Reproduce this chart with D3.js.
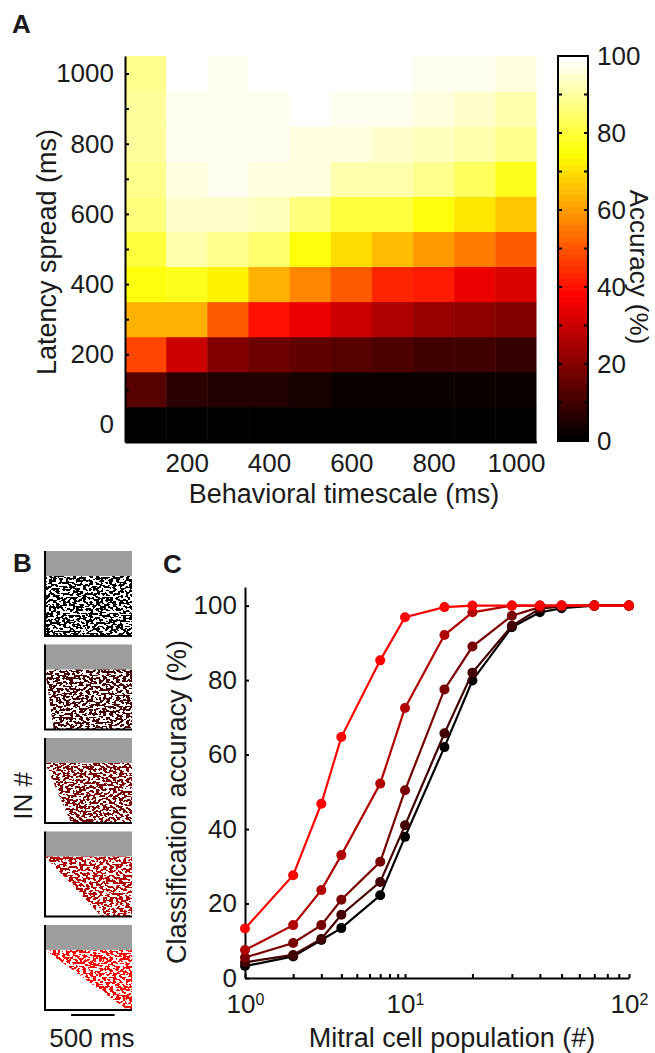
<!DOCTYPE html>
<html>
<head>
<meta charset="utf-8">
<title>Latency spread and classification accuracy</title>
<style>
  body { margin: 0; background: #fff; }
  text { font-family: "Liberation Sans", Arial, sans-serif; fill: #1a1a1a; }
</style>
</head>
<body>
<script src="https://d3js.org/d3.v7.min.js"></script>
<div id="fig"></div>
<script>
// ---- panel A data: accuracy (%) for each latency spread (rows) x behavioral timescale (cols)
var timescale = [100, 200, 300, 400, 500, 600, 700, 800, 900, 1000];
var spread = [0, 100, 200, 300, 400, 500, 600, 700, 800, 900, 1000];
var accuracy = [
  [1.2, 0.9, 0.8, 0.7, 0.7, 0.6, 0.6, 0.6, 0.6, 0.6],
  [12.5, 7, 5.9, 4.7, 4.1, 2.6, 2.4, 2.4, 2.0, 1.8],
  [47, 30, 20.3, 16.5, 15, 13, 11.8, 9.7, 9.4, 8.8],
  [62.5, 62.5, 50, 39.8, 35, 30, 25, 22.5, 21.5, 18.8],
  [75, 78, 72.5, 62.5, 57.5, 50, 43.5, 41, 35, 32.5],
  [81, 90.7, 89, 84.4, 75, 69.4, 64.6, 60.4, 55.4, 50.7],
  [86, 94.5, 94, 93, 86, 81, 80, 76.5, 71.6, 66.9],
  [87.5, 96.5, 97.5, 96.8, 96, 92, 91, 87.5, 83, 78],
  [90, 97.5, 98, 97.8, 96.8, 95.8, 94.5, 93, 92, 89],
  [90, 97, 98, 97.8, 100, 97.5, 97, 96.5, 95, 92],
  [89, 100, 97.8, 100, 100, 100, 100, 97.5, 97, 96]
];
var xTicksA = [200, 400, 600, 800, 1000];
var cbTicks = [0, 20, 40, 60, 80, 100];

// ---- panel B: latency spread shown in each raster (ms)
var rasterSpread = [0, 100, 300, 650, 950];
var inColors = ["#000000", "#420000", "#780000", "#b00000", "#ff0000"];

// ---- panel C: classification accuracy vs mitral cell population
var population = [1, 2, 3, 4, 7, 10, 15, 20, 30, 40, 50, 70, 100];
var acc1 = [3.2, 5.8, 10.2, 13.4, 22.2, 37.9, 62, 79.9, 94.2, 98.2, 99.3, 100, 100];
var acc2 = [4.2, 6.2, 10.5, 17, 25.8, 41, 65.7, 82, 94.6, 99.2, 99.8, 100, 100];
var acc3 = [5.5, 9.4, 14.2, 21, 31.2, 50.4, 77.5, 89, 97.3, 99.6, 100, 100, 100];
var acc4 = [7.5, 14.2, 23.6, 33, 52.2, 72.5, 92.1, 98.2, 100, 100, 100, 100, 100];
var acc5 = [13.3, 27.6, 46.8, 64.7, 85.3, 96.9, 99.6, 100, 100, 100, 100, 100, 100];
var yTicksC = [0, 20, 40, 60, 80, 100];

var svg = d3.select("#fig").append("svg")
  .attr("width", 655)
  .attr("height", 1053);

function styleAxis(g) {
  g.attr("font-size", null).attr("font-family", null);
  g.select(".domain").attr("stroke", "#000").attr("stroke-width", 2);
  g.selectAll(".tick line").attr("stroke", "#000").attr("stroke-width", 2);
  g.selectAll(".tick text").attr("font-size", 26).style("fill", "#1a1a1a");
}

// ================= A =================
var xA = d3.scaleLinear().domain([50, 1050]).range([125, 536.5]);
var yA = d3.scaleLinear().domain([-50, 1050]).range([442, 56]);
var hot = d3.scaleLinear().domain([0, 37.5, 75, 100]).range(["#000", "#f00", "#ff0", "#fff"]);
var hotSteps = d3.range(64).map(function(i) { return hot(i * 100 / 63); });
var colorA = d3.scaleQuantize().domain([0, 100]).range(hotSteps);

var cells = [];
accuracy.forEach(function(row, i) {
  row.forEach(function(v, j) { cells.push({x: timescale[j], y: spread[i], v: v}); });
});

svg.append("g").selectAll("rect")
  .data(cells)
  .enter().append("rect")
    .attr("x", function(d) { return xA(d.x - 50); })
    .attr("y", function(d) { return yA(d.y + 50); })
    .attr("width", function(d) { return xA(d.x + 50) - xA(d.x - 50) + (d.x < 1000 ? 0.5 : 0); })
    .attr("height", function(d) { return yA(d.y - 50) - yA(d.y + 50) + (d.y > 0 ? 0.5 : 0); })
    .attr("fill", function(d) { return colorA(d.v); });

svg.append("g")
  .attr("transform", "translate(125,0)")
  .call(d3.axisLeft(yA).tickValues(d3.range(0, 1001, 100)).tickSize(-4).tickSizeOuter(0).tickPadding(11)
    .tickFormat(function(d) { return d % 200 == 0 ? d : ""; }))
  .call(styleAxis);

svg.append("g")
  .attr("transform", "translate(0,442)")
  .call(d3.axisBottom(xA).tickValues(xTicksA).tickSize(0).tickPadding(12).tickFormat(d3.format("d")))
  .call(styleAxis);

// colorbar
var yCb = d3.scaleLinear().domain([0, 100]).range([441, 56]);
var cb = svg.append("g");
cb.selectAll("rect")
  .data(hotSteps)
  .enter().append("rect")
    .attr("x", 558)
    .attr("width", 30)
    .attr("y", function(d, i) { return yCb((i + 1) * 100 / 64); })
    .attr("height", function(d, i) { return yCb(i * 100 / 64) - yCb((i + 1) * 100 / 64) + 0.5; })
    .attr("fill", function(d) { return d; });
cb.append("rect")
  .attr("x", 558).attr("y", yCb(100)).attr("width", 30).attr("height", yCb(0) - yCb(100))
  .attr("fill", "none").attr("stroke", "#000").attr("stroke-width", 2);
cb.selectAll(".tl")
  .data(d3.range(10, 100, 10))
  .enter().append("path")
    .attr("d", function(d) { return "M558," + yCb(d) + "h4M588," + yCb(d) + "h-4"; })
    .attr("stroke", "#000").attr("stroke-width", 2);
cb.selectAll("text")
  .data(cbTicks)
  .enter().append("text")
    .attr("x", 597)
    .attr("y", function(d) { return yCb(d); })
    .attr("dy", "0.35em")
    .attr("font-size", 26)
    .text(function(d) { return d; });
svg.append("text")
  .attr("transform", "translate(630,267) rotate(90)")
  .attr("text-anchor", "middle")
  .attr("font-size", 26)
  .text("Accuracy (%)");

svg.append("text")
  .attr("transform", "translate(56,252) rotate(-90)")
  .attr("text-anchor", "middle")
  .attr("font-size", 27)
  .text("Latency spread (ms)");
svg.append("text")
  .attr("x", 344).attr("y", 503)
  .attr("text-anchor", "middle")
  .attr("font-size", 27)
  .text("Behavioral timescale (ms)");

svg.append("text").attr("x", 12).attr("y", 33).attr("font-size", 26).attr("font-weight", "bold").text("A");

// ================= B =================
// spike rasters drawn as a thresholded noise texture clipped to each raster's area
var defs = svg.append("defs");
var flt = defs.append("filter").attr("id", "spikes")
  .attr("color-interpolation-filters", "sRGB")
  .attr("x", 0).attr("y", 0).attr("width", 1).attr("height", 1);
flt.append("feTurbulence").attr("type", "fractalNoise").attr("baseFrequency", "0.3 0.45")
  .attr("numOctaves", 1).attr("seed", 7).attr("result", "noise");
flt.append("feColorMatrix").attr("in", "noise").attr("type", "matrix")
  .attr("values", "0 0 0 0 0  0 0 0 0 0  0 0 0 0 0  1 0 0 0 0").attr("result", "a");
flt.append("feComponentTransfer").attr("in", "a").attr("result", "t")
  .append("feFuncA").attr("type", "discrete").attr("tableValues", "0 0 0 0 0 0 0 0 0 0 1 1 1 1 1 1 1 1 1 1");
flt.append("feComposite").attr("in", "SourceGraphic").attr("in2", "t").attr("operator", "in");

var xB = d3.scaleLinear().domain([0, 1000]).range([45, 132]);
var yB = d3.scaleBand().domain(d3.range(rasterSpread.length)).range([551, 1010]).paddingInner(0.09);
var grayH = 25;

rasterSpread.forEach(function(s, i) {
  var top = yB(i), bot = top + yB.bandwidth();
  var g = svg.append("g");
  g.append("rect")
    .attr("x", xB(0)).attr("y", top).attr("width", xB(1000) - xB(0)).attr("height", grayH)
    .attr("fill", "#9d9d9d");
  g.append("path")
    .attr("d", "M" + xB(0) + "," + (top + grayH) + "L" + xB(1000) + "," + (top + grayH) +
               "L" + xB(1000) + "," + bot + "L" + xB(s) + "," + bot + "Z")
    .attr("fill", inColors[i])
    .attr("filter", "url(#spikes)");
  g.append("path")
    .attr("d", "M" + xB(0) + "," + top + "V" + bot + "H" + xB(1000))
    .attr("fill", "none").attr("stroke", "#000").attr("stroke-width", 2);
});

svg.append("line")
  .attr("x1", xB(300)).attr("x2", xB(800)).attr("y1", 1015).attr("y2", 1015)
  .attr("stroke", "#000").attr("stroke-width", 2);
svg.append("text").attr("x", 92).attr("y", 1047).attr("text-anchor", "middle").attr("font-size", 26).text("500 ms");
svg.append("text")
  .attr("transform", "translate(32,796) rotate(-90)")
  .attr("text-anchor", "middle")
  .attr("font-size", 26)
  .text("IN #");
svg.append("text").attr("x", 13).attr("y", 572).attr("font-size", 26).attr("font-weight", "bold").text("B");

// ================= C =================
var xC = d3.scaleLog().domain([1, 10, 100]).range([245, 405, 629]);
var yC = d3.scaleLinear().domain([0, 105]).range([978, 587]);

var minorC = [1, 2, 3, 4, 5, 6, 7, 8, 9, 10, 20, 30, 40, 50, 60, 70, 80, 90, 100];
var xAxC = svg.append("g")
  .attr("transform", "translate(0,978)")
  .call(d3.axisBottom(xC).tickValues(minorC).tickSize(-4).tickSizeOuter(0).tickPadding(17)
    .tickFormat(function(d) { return ""; }))
  .call(styleAxis);
xAxC.selectAll(".tick text")
  .filter(function(d) { return d == 1 || d == 10 || d == 100; })
  .text("10")
  .append("tspan")
    .attr("dy", "-0.55em")
    .attr("font-size", 16)
    .text(function(d) { return Math.round(Math.log10(d)); });

svg.append("g")
  .attr("transform", "translate(245,0)")
  .call(d3.axisLeft(yC).tickValues(yTicksC).tickSize(-4).tickSizeOuter(0).tickPadding(8))
  .call(styleAxis);

var series = [acc1, acc2, acc3, acc4, acc5];
var line = d3.line()
  .x(function(d) { return xC(d[0]); })
  .y(function(d) { return yC(d[1]); });

series.forEach(function(acc, i) {
  var pts = population.map(function(p, k) { return [p, acc[k]]; });
  var g = svg.append("g");
  g.append("path")
    .attr("d", line(pts))
    .attr("fill", "none")
    .attr("stroke", inColors[i])
    .attr("stroke-width", 2.2);
  g.selectAll("circle")
    .data(pts)
    .enter().append("circle")
      .attr("cx", function(d) { return xC(d[0]); })
      .attr("cy", function(d) { return yC(d[1]); })
      .attr("r", 5)
      .attr("fill", inColors[i]);
});

svg.append("text")
  .attr("transform", "translate(186,802) rotate(-90)")
  .attr("text-anchor", "middle")
  .attr("font-size", 27)
  .text("Classification accuracy (%)");
svg.append("text")
  .attr("x", 452).attr("y", 1047)
  .attr("text-anchor", "middle")
  .attr("font-size", 27)
  .text("Mitral cell population (#)");
svg.append("text").attr("x", 163).attr("y", 573).attr("font-size", 26).attr("font-weight", "bold").text("C");
</script>
</body>
</html>
